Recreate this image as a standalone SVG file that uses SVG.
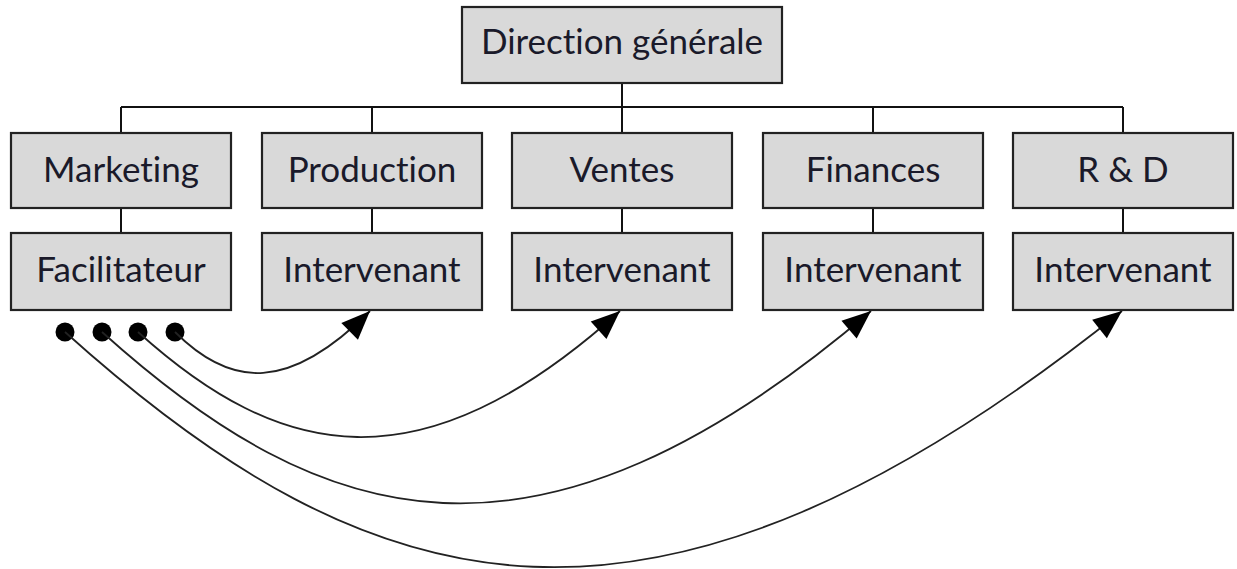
<svg xmlns="http://www.w3.org/2000/svg" width="1237" height="569" viewBox="0 0 1237 569">
<style>
.box{fill:#d9d9d9;stroke:#222;stroke-width:2.2}
.lbl{font-family:Lato,"Open Sans",sans-serif;font-size:35px;fill:#1a1a2a;text-anchor:middle;font-variant-ligatures:none}
.tree{fill:none;stroke:#111;stroke-width:2}
.arc{fill:none;stroke:#222;stroke-width:1.8}
.dot{fill:#000}
</style>
<defs>
<marker id="ah" markerUnits="userSpaceOnUse" markerWidth="32" markerHeight="30" viewBox="-28 -14 30 28" refX="0" refY="0" orient="auto">
<path d="M0,0 L-27,-11 L-27,11 Z" fill="#000"/>
</marker>
</defs>
<g id="connectors">
<path class="tree" d="M622,83 V107 M121,107 H1123 M121,107 V133 M372,107 V133 M622,107 V133 M873,107 V133 M1123,107 V133"/>
<path class="tree" d="M121,208 V233 M372,208 V233 M622,208 V233 M873,208 V233 M1123,208 V233"/>
<circle class="dot" cx="65" cy="332" r="9.5"/>
<circle class="dot" cx="102" cy="332" r="9.5"/>
<circle class="dot" cx="138" cy="332" r="9.5"/>
<circle class="dot" cx="175" cy="332" r="9.5"/>
<path class="arc" marker-end="url(#ah)" d="M175,332 C231,388 289,392 370,311"/>
<path class="arc" marker-end="url(#ah)" d="M138,332 C280,460 420,491 620,311"/>
<path class="arc" marker-end="url(#ah)" d="M102,332 C322,530 535,597 871,311"/>
<path class="arc" marker-end="url(#ah)" d="M65,332 C374,610 652,687 1122,311"/>
</g>
<g id="direction"><rect class="box" x="462" y="7" width="320" height="76"/><text class="lbl" x="622" y="54">Direction générale</text></g>
<g id="marketing"><rect class="box" x="11" y="133" width="220" height="75"/><text class="lbl" x="121" y="182">Marketing</text></g>
<g id="production"><rect class="box" x="262" y="133" width="220" height="75"/><text class="lbl" x="372" y="182">Production</text></g>
<g id="ventes"><rect class="box" x="512" y="133" width="220" height="75"/><text class="lbl" x="622" y="182">Ventes</text></g>
<g id="finances"><rect class="box" x="763" y="133" width="220" height="75"/><text class="lbl" x="873" y="182">Finances</text></g>
<g id="rd"><rect class="box" x="1013" y="133" width="220" height="75"/><text class="lbl" x="1123" y="182">R &amp; D</text></g>
<g id="facilitateur"><rect class="box" x="11" y="233" width="220" height="77"/><text class="lbl" x="121" y="282">Facilitateur</text></g>
<g id="intervenant1"><rect class="box" x="262" y="233" width="220" height="77"/><text class="lbl" x="372" y="282">Intervenant</text></g>
<g id="intervenant2"><rect class="box" x="512" y="233" width="220" height="77"/><text class="lbl" x="622" y="282">Intervenant</text></g>
<g id="intervenant3"><rect class="box" x="763" y="233" width="220" height="77"/><text class="lbl" x="873" y="282">Intervenant</text></g>
<g id="intervenant4"><rect class="box" x="1013" y="233" width="220" height="77"/><text class="lbl" x="1123" y="282">Intervenant</text></g>
</svg>
